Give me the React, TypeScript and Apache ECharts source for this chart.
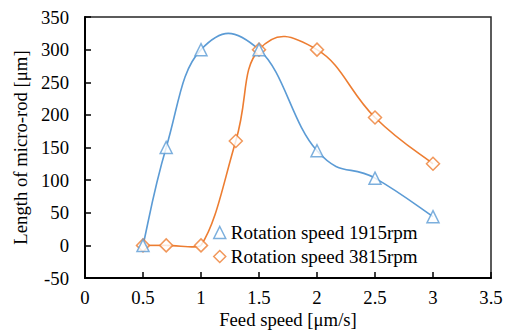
import React, { useEffect, useRef } from "react";
import * as echarts from "echarts";

const seriesNames = ["Rotation speed 1915rpm", "Rotation speed 3815rpm"];
const feed1915 = [0.5, 0.7, 1, 1.5, 2, 2.5, 3];
const length1915 = [0, 150, 300, 300, 145, 103, 44];
const feed3815 = [0.5, 0.7, 1, 1.3, 1.5, 2, 2.5, 3];
const length3815 = [0, 0, 0, 160, 300, 300, 196, 125];
const xTitle = "Feed speed [μm/s]";
const yTitle = "Length of micro-rod [μm]";

const BLUE = "#5B9BD5";
const ORANGE = "#ED7D31";
const FONT = "Liberation Serif, Times New Roman, serif";
const FS = 18.7;
const TENSION = 0.22;

// control-vector damping when a segment is much shorter than its neighbour
function damp(dSide: number, dOther: number) {
  const r = dOther > 0 ? dSide / dOther : 1;
  return r >= 0.5 ? 1 : Math.pow(r / 0.5, 4);
}

function curveSeries(name: string, xs: number[], ys: number[], color: string) {
  return {
    name,
    type: "custom",
    data: xs.map((x, i) => [x, ys[i]]),
    encode: { x: 0, y: 1 },
    silent: true,
    z: 1,
    renderItem: (params: any, api: any) => {
      const i = params.dataIndex;
      const n = xs.length;
      if (i >= n - 1) return null;
      const p = (j: number) => {
        const k = Math.max(0, Math.min(n - 1, j));
        return api.coord([xs[k], ys[k]]);
      };
      const dist = (a: number[], b: number[]) => Math.hypot(a[0] - b[0], a[1] - b[1]);
      const p0 = p(i - 1);
      const p1 = p(i);
      const p2 = p(i + 1);
      const p3 = p(i + 2);
      const d01 = dist(p0, p1);
      const d12 = dist(p1, p2);
      const d23 = dist(p2, p3);
      const f1 = TENSION * damp(d12, d01);
      const f2 = TENSION * damp(d12, d23);
      return {
        type: "bezierCurve",
        shape: {
          x1: p1[0],
          y1: p1[1],
          x2: p2[0],
          y2: p2[1],
          cpx1: p1[0] + (p2[0] - p0[0]) * f1,
          cpy1: p1[1] + (p2[1] - p0[1]) * f1,
          cpx2: p2[0] - (p3[0] - p1[0]) * f2,
          cpy2: p2[1] - (p3[1] - p1[1]) * f2,
        },
        style: { stroke: color, lineWidth: 1.6, fill: "none" },
      };
    },
  };
}

export default function App() {
  const ref = useRef<HTMLDivElement>(null);
  useEffect(() => {
    if (!ref.current) return;
    const chart = echarts.init(ref.current, null, { renderer: "svg" });
    const pairs = (xs: number[], ys: number[]) => xs.map((x, i) => [x, ys[i]]);
    chart.setOption({
      animation: false,
      backgroundColor: "#ffffff",
      textStyle: { fontFamily: FONT, color: "#000" },
      grid: {
        left: 85,
        right: 19,
        top: 17,
        bottom: 52,
        outerBoundsMode: "none",
        containLabel: false,
        show: true,
        borderColor: "#262626",
        borderWidth: 1.5,
        backgroundColor: "transparent",
      },
      legend: {
        orient: "vertical",
        left: 208,
        top: 218,
        itemGap: 5,
        itemWidth: 12,
        itemHeight: 12,
        textStyle: { fontFamily: FONT, fontSize: 19, color: "#000" },
        data: [
          { name: seriesNames[0], icon: "triangle", itemStyle: { color: "#fff", borderColor: BLUE, borderWidth: 1.5 } },
          { name: seriesNames[1], icon: "diamond", itemStyle: { color: "#fff", borderColor: ORANGE, borderWidth: 1.5 } },
        ],
      },
      xAxis: {
        type: "value",
        min: 0,
        max: 3.5,
        interval: 0.5,
        name: xTitle,
        nameLocation: "middle",
        nameGap: 33,
        nameMoveOverlap: false,
        nameTextStyle: { fontFamily: FONT, fontSize: FS, color: "#000", lineHeight: 16 },
        axisLine: { show: true, onZero: false, lineStyle: { color: "#000", width: 2 } },
        axisTick: { show: true, inside: true, length: 6, lineStyle: { color: "#000", width: 1.5 } },
        axisLabel: { fontFamily: FONT, fontSize: FS, color: "#000", margin: 11, lineHeight: 16 },
        splitLine: { show: false },
      },
      yAxis: {
        type: "value",
        min: -50,
        max: 350,
        interval: 50,
        name: yTitle,
        nameLocation: "middle",
        nameGap: 55,
        nameMoveOverlap: false,
        nameTextStyle: { fontFamily: FONT, fontSize: FS, color: "#000" },
        axisLine: { show: true, onZero: false, lineStyle: { color: "#000", width: 2 } },
        axisTick: { show: true, inside: true, length: 6, lineStyle: { color: "#000", width: 1.5 } },
        axisLabel: { fontFamily: FONT, fontSize: FS, color: "#000", margin: 16 },
        splitLine: { show: false },
      },
      series: [
        curveSeries("curve1915", feed1915, length1915, BLUE),
        curveSeries("curve3815", feed3815, length3815, ORANGE),
        {
          name: seriesNames[0],
          type: "scatter",
          data: pairs(feed1915, length1915),
          symbol: "triangle",
          symbolSize: 12,
          itemStyle: { color: "#fff", borderColor: BLUE, borderWidth: 1.5 },
          z: 4,
        },
        {
          name: seriesNames[1],
          type: "scatter",
          data: pairs(feed3815, length3815),
          symbol: "diamond",
          symbolSize: 13,
          itemStyle: { color: "#fff", borderColor: ORANGE, borderWidth: 1.5 },
          z: 3,
        },
      ],
    });
    return () => chart.dispose();
  }, []);
  return <div ref={ref} style={{ width: 510, height: 330, position: "absolute", left: 0, top: 0 }} />;
}
